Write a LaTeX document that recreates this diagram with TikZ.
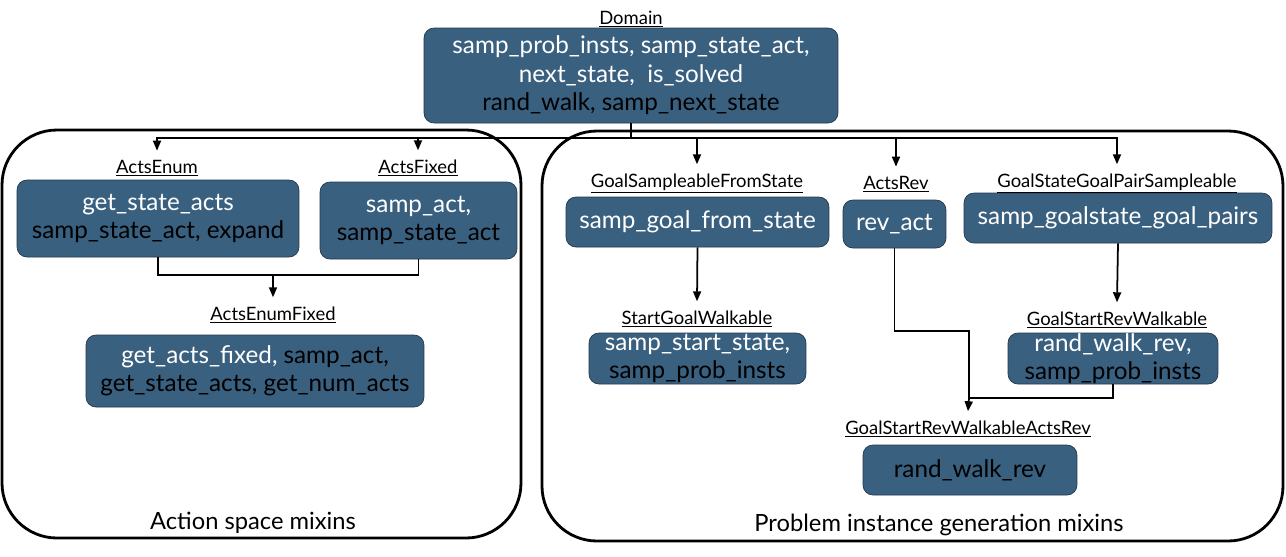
\documentclass[tikz,border=0pt]{standalone}
\usepackage{fontspec}
\setmainfont{Lato}
\usetikzlibrary{arrows.meta,positioning,calc}
\definecolor{mixblue}{HTML}{3A6080}
\definecolor{mixedge}{HTML}{22384D}
\newcommand{\wt}[1]{\textcolor{white}{#1}}

\begin{document}
\begin{tikzpicture}[x=0.02cm, y=-0.02cm,
      mixin/.style={rectangle, draw=mixedge, fill=mixblue, rounded corners=0.2cm,
        align=center, inner sep=0pt, font=\fontsize{13.8}{16.2}\selectfont},
      lbl/.style={anchor=base, inner sep=0pt, font=\fontsize{10.5}{12}\selectfont},
      panel/.style={draw, line width=1.6pt, rounded corners=1.1cm},
      caption/.style={font=\fontsize{13.5}{16}\selectfont},
      line/.style={line width=1pt},
      arr/.style={line width=1pt, -{Triangle[length=2mm, width=1.6mm]}}
    ]
    \useasboundingbox (0,0) rectangle (1286,556);

    % --- panels ---
    \draw[panel] (2,130) rectangle (521,538);
    \draw[panel] (542,131) rectangle (1283,541);
    \node[caption] (actcap) at (253,523) {Action space mixins};
    \node[caption] (probcap) at (939,525) {Problem instance generation mixins};

    % --- Domain ---
    \node[mixin, minimum width=8.28cm, minimum height=1.9cm] (domain) at (631,75.5)
      {\wt{samp\_prob\_insts, samp\_state\_act,}\\ \wt{next\_state,\ \ is\_solved}\\ rand\_walk, samp\_next\_state};
    \node[lbl] (domainlbl) at (631,24) {\underline{Domain}};

    % --- (a) action space mixins ---
    \node[mixin, minimum width=5.64cm, minimum height=1.54cm] (actsenum) at (158,218.5)
      {\wt{get\_state\_acts}\\ samp\_state\_act, expand};
    \node[lbl] (enumlbl) at (157,173) {\underline{ActsEnum}};
    \node[mixin, minimum width=3.94cm, minimum height=1.54cm] (actsfixed) at (418.5,220.5)
      {\wt{samp\_act,}\\ samp\_state\_act};
    \node[lbl] (fixedlbl) at (418,173) {\underline{ActsFixed}};
    \node[mixin, minimum width=6.76cm, minimum height=1.44cm] (actsenumfixed) at (255,371)
      {\wt{get\_acts\_fixed,} samp\_act,\\ get\_state\_acts, get\_num\_acts};
    \node[lbl] (efixlbl) at (273,320) {\underline{ActsEnumFixed}};

    % --- (b) problem instance generation mixins ---
    \node[mixin, minimum width=5.26cm, minimum height=1.0cm] (goalsamp) at (697.5,222)
      {\wt{samp\_goal\_from\_state}};
    \node[lbl] (gsamplbl) at (697,187) {\underline{GoalSampleableFromState}};
    \node[mixin, minimum width=2.06cm, minimum height=0.96cm] (actsrev) at (894.5,224)
      {\wt{rev\_act}};
    \node[lbl] (revlbl) at (896,189) {\underline{ActsRev}};
    \node[mixin, minimum width=6.16cm, minimum height=1.0cm] (goalpair) at (1118,218)
      {\wt{samp\_goalstate\_goal\_pairs}};
    \node[lbl] (pairlbl) at (1117,187) {\underline{GoalStateGoalPairSampleable}};
    \node[mixin, minimum width=4.34cm, minimum height=1.02cm] (startgoal) at (697.5,358.5)
      {\wt{samp\_start\_state,}\\ samp\_prob\_insts};
    \node[lbl] (sgwlbl) at (697,324) {\underline{StartGoalWalkable}};
    \node[mixin, minimum width=4.2cm, minimum height=1.02cm] (goalstartrev) at (1113,358.5)
      {\wt{rand\_walk\_rev,}\\ samp\_prob\_insts};
    \node[lbl] (gsrwlbl) at (1117,325) {\underline{GoalStartRevWalkable}};
    \node[mixin, minimum width=4.28cm, minimum height=1.0cm] (randwalkrev) at (970,470)
      {rand\_walk\_rev};
    \node[lbl] (rwrlbl) at (968,434) {\underline{GoalStartRevWalkableActsRev}};

    % --- connectors ---
    \draw[line] (domain.south) -- ++(0,15) coordinate (split);
    \draw[arr] (split) -| ([yshift=5pt]enumlbl.north);
    \draw[arr] (split) -| ([yshift=5pt]fixedlbl.north);
    \draw[arr] (split) -| ([yshift=5pt]gsamplbl.north);
    \draw[arr] (split) -| ([yshift=5pt]revlbl.north);
    \draw[arr] (split) -| ([yshift=5pt]pairlbl.north);

    \coordinate (joinA) at (273,275);
    \draw[line] (actsenum.south) |- (joinA) -| (actsfixed.south);
    \draw[arr] (joinA) -- ([yshift=5pt]efixlbl.north);

    \draw[arr] (goalsamp.south) -- ([yshift=5pt]sgwlbl.north);
    \draw[arr] (goalpair.south) -- ([yshift=5pt]gsrwlbl.north);

    \coordinate (revbend) at (969,331);
    \coordinate (joinB) at (969,398);
    \draw[line] (actsrev.south) |- (revbend) -- (joinB);
    \draw[line] (goalstartrev.south) |- (joinB);
    \draw[arr] (joinB) -- ([yshift=5pt]rwrlbl.north);
  \end{tikzpicture}
\end{document}
